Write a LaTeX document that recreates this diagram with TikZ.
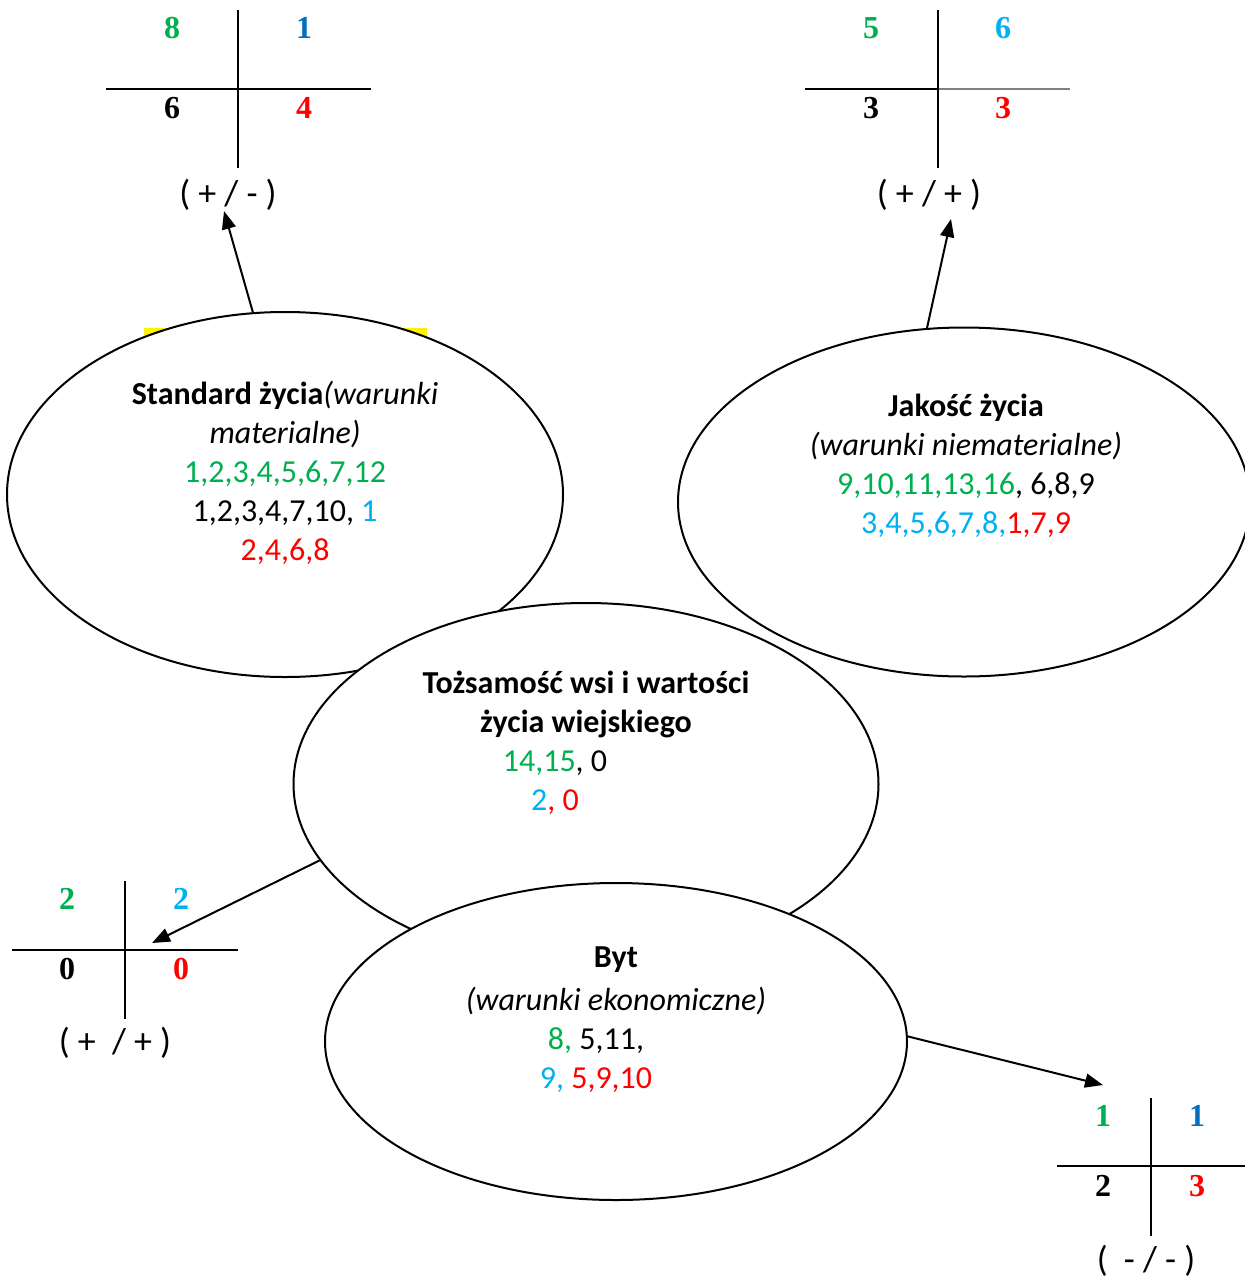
\documentclass[tikz,border=0pt]{standalone}
\usepackage{fontspec}
\usepackage{xcolor}
\usepackage{tikz}
\setmainfont{Carlito}
\newfontfamily\cyfry{Liberation Serif}
\usetikzlibrary{shapes.geometric, arrows.meta, positioning, calc}
\definecolor{zielony}{HTML}{00B050}
\definecolor{niebieski}{HTML}{00B0F0}
\definecolor{granat}{HTML}{0070C0}
\definecolor{czerwony}{HTML}{FF0000}
\tikzstyle{arrow} = [line width=1pt,-{Triangle[length=9pt,width=7pt]}]

\begin{document}
\begin{tikzpicture}[
    x=0.5pt, y=-0.5pt,
    bubble/.style={ellipse, draw, line width=1pt, fill=white},
    opis/.style={align=center, font=\fontsize{16}{19.5}\selectfont},
    cyfra/.style={font=\cyfry\bfseries\fontsize{16}{19}\selectfont},
    znak/.style={inner sep=0pt, font=\fontsize{18}{22}\selectfont},
    kreska/.style={line width=1pt}
  ]
    \useasboundingbox (0,0) rectangle (1245,1280);

    % Standard zycia
    \fill[yellow] (144,328) rectangle (427,360);
    \node[bubble, minimum width=278pt, minimum height=182.5pt] (std) at (285,494.5) {};
    \node[opis] (stdtxt) at ($(std)+(0,-22)$) {\textbf{Standard życia}\textit{(warunki}\\
      \textit{materialne)}\\
      \textcolor{zielony}{1,2,3,4,5,6,7,12}\\
      1,2,3,4,7,10, \textcolor{niebieski}{1}\\
      \textcolor{czerwony}{2,4,6,8}};

    % Jakosc zycia
    \node[bubble, minimum width=286pt, minimum height=174.5pt] (jak) at (964,502) {};
    \node[opis] (jaktxt) at ($(jak)+(2,-36)$) {\textbf{Jakość życia}\\
      \textit{(warunki niematerialne)}\\
      \textcolor{zielony}{9,10,11,13,16}, 6,8,9\\
      \textcolor{niebieski}{3,4,5,6,7,8,}\textcolor{czerwony}{1,7,9}};

    % Tozsamosc wsi
    \node[bubble, minimum width=292.5pt, minimum height=181pt] (toz) at (586,784) {};
    \node[opis] (toztxt) at ($(toz)+(0,-41)$) {\textbf{Tożsamość wsi i wartości}\\
      \textbf{życia wiejskiego}\\
      \textcolor{zielony}{14,15}, 0\rule{31pt}{0pt}\\
      \textcolor{niebieski}{2}\textcolor{czerwony}{, 0}\rule{31pt}{0pt}};

    % Byt
    \node[bubble, minimum width=291pt, minimum height=158.5pt] (byt) at (616,1041.5) {};
    \node[opis] (byttxt) at ($(byt)+(0,-22)$) {\textbf{Byt}\\[2pt]
      \textit{(warunki ekonomiczne)}\\
      \textcolor{zielony}{8,} 5,11,\rule{20pt}{0pt}\\
      \textcolor{niebieski}{9,} \textcolor{czerwony}{5,9,10}\rule{20pt}{0pt}};

    % Cross 1 (+/-)
    \coordinate (c1) at (238,89);
    \draw[kreska] ($(c1)+(-132,0)$) -- ($(c1)+(133,0)$);
    \draw[kreska] ($(c1)+(0,-79)$) -- ($(c1)+(0,79)$);
    \node[cyfra, text=zielony] (a1) at ($(c1)+(-66,-61)$) {8};
    \node[cyfra, text=granat] (a2) at ($(c1)+(66,-61)$) {1};
    \node[cyfra] (a3) at ($(c1)+(-66,19)$) {6};
    \node[cyfra, text=czerwony] (a4) at ($(c1)+(66,19)$) {4};
    \node[znak] (lblA) at (228,195) {( + / - )};

    % Cross 2 (+/+)
    \coordinate (c2) at (938,89);
    \draw[kreska] ($(c2)+(-133,0)$) -- (c2);
    \draw[gray, line width=0.7pt] (c2) -- ($(c2)+(132,0)$);
    \draw[kreska] ($(c2)+(0,-79)$) -- ($(c2)+(0,79)$);
    \node[cyfra, text=zielony] (b1) at ($(c2)+(-67,-61)$) {5};
    \node[cyfra, text=niebieski] (b2) at ($(c2)+(65,-61)$) {6};
    \node[cyfra] (b3) at ($(c2)+(-67,19)$) {3};
    \node[cyfra, text=czerwony] (b4) at ($(c2)+(65,19)$) {3};
    \node[znak] (lblB) at (929,195) {( + / + )};

    % Cross 3 (+/+)
    \coordinate (c3) at (125,950);
    \draw[kreska] ($(c3)+(-113,0)$) -- ($(c3)+(113,0)$);
    \draw[kreska] ($(c3)+(0,-69)$) -- ($(c3)+(0,69)$);
    \node[cyfra, text=zielony] (d1) at ($(c3)+(-58,-51)$) {2};
    \node[cyfra, text=niebieski] (d2) at ($(c3)+(56,-51)$) {2};
    \node[cyfra] (d3) at ($(c3)+(-58,19)$) {0};
    \node[cyfra, text=czerwony] (d4) at ($(c3)+(56,19)$) {0};
    \node[znak] (lblC) at (115,1043) {( +\ \ / + )};
    \coordinate (tipC) at ($(c3)+(27,-7)$);

    % Cross 4 (-/-)
    \coordinate (c4) at (1151,1166);
    \draw[kreska] ($(c4)+(-94,0)$) -- ($(c4)+(94,0)$);
    \draw[kreska] ($(c4)+(0,-68)$) -- ($(c4)+(0,70)$);
    \node[cyfra, text=zielony] (e1) at ($(c4)+(-48,-50)$) {1};
    \node[cyfra, text=granat] (e2) at ($(c4)+(46,-50)$) {1};
    \node[cyfra] (e3) at ($(c4)+(-48,20)$) {2};
    \node[cyfra, text=czerwony] (e4) at ($(c4)+(46,20)$) {3};
    \node[znak] (lblD) at (1146,1261) {(\ \ - / - )};
    \coordinate (tipD) at ($(c4)+(-48,-81)$);

    % arrows
    \draw[arrow] (std.100) -- ([xshift=-2pt]lblA.south);
    \draw[arrow] (jak.102) -- ([shift={(11pt,-4pt)}]lblB.south);
    \draw[arrow] (toz.196) -- (tipC);
    \draw[arrow] (byt.1) -- (tipD);
\end{tikzpicture}
\end{document}
